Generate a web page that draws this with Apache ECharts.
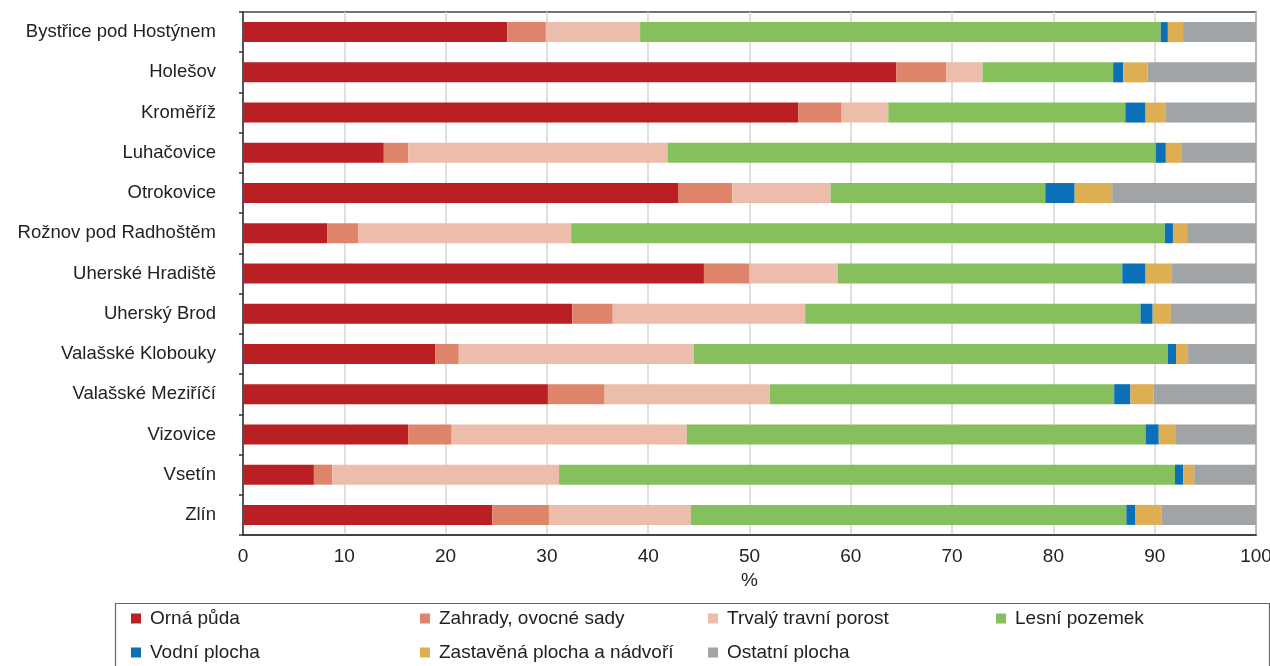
<!DOCTYPE html>
<html>
<head>
<meta charset="utf-8">
<script src="https://cdn.jsdelivr.net/npm/echarts@6/dist/echarts.min.js"></script>
<style>
html,body{margin:0;padding:0;background:#fff;overflow:hidden;}
#chart{width:1270px;height:666px;}
</style>
</head>
<body>
<div id="chart"></div>
<script>
var categories = ["Bystřice pod Hostýnem","Holešov","Kroměříž","Luhačovice","Otrokovice","Rožnov pod Radhoštěm","Uherské Hradiště","Uherský Brod","Valašské Klobouky","Valašské Meziříčí","Vizovice","Vsetín","Zlín"];
var ornaPuda      = [26.1, 64.5, 54.8, 13.9, 43.0,  8.3, 45.5, 32.5, 19.0, 30.1, 16.3,  7.0, 24.6];
var zahrady       = [ 3.8,  4.9,  4.3,  2.4,  5.3,  3.1,  4.5,  4.0,  2.3,  5.6,  4.3,  1.8,  5.6];
var trvalyPorost  = [ 9.3,  3.6,  4.6, 25.6,  9.7, 21.0,  8.7, 19.0, 23.2, 16.3, 23.2, 22.4, 14.0];
var lesniPozemek  = [51.4, 12.9, 23.4, 48.2, 21.2, 58.6, 28.1, 33.1, 46.8, 34.0, 45.3, 60.8, 43.0];
var vodniPlocha   = [ 0.7,  1.0,  2.0,  1.0,  2.9,  0.8,  2.3,  1.2,  0.8,  1.6,  1.3,  0.8,  0.9];
var zastavena     = [ 1.5,  2.4,  2.0,  1.6,  3.7,  1.4,  2.6,  1.8,  1.2,  2.3,  1.7,  1.1,  2.6];
var ostatni       = [ 7.2, 10.7,  8.9,  7.3, 14.2,  6.8,  8.3,  8.4,  6.7, 10.1,  7.9,  6.1,  9.3];
var xTicks = [0,10,20,30,40,50,60,70,80,90,100];

var seriesDefs = [
  {name:"Orná půda", data:ornaPuda, color:"#BA1F24"},
  {name:"Zahrady, ovocné sady", data:zahrady, color:"#DE846A"},
  {name:"Trvalý travní porost", data:trvalyPorost, color:"#EDBDAB"},
  {name:"Lesní pozemek", data:lesniPozemek, color:"#85C05C"},
  {name:"Vodní plocha", data:vodniPlocha, color:"#0C70B8"},
  {name:"Zastavěná plocha a nádvoří", data:zastavena, color:"#DDAE52"},
  {name:"Ostatní plocha", data:ostatni, color:"#A1A4A7"}
];

var FONT = "Liberation Sans, Arial, sans-serif";
var FS = 19;
var chart = echarts.init(document.getElementById('chart'), null, {renderer:'canvas'});

var legendCols = [131, 420, 708, 996];
var legendRows = [609, 643];
var legends = seriesDefs.map(function(s, i){
  var col = i % 4, row = Math.floor(i / 4);
  return {
    orient:'horizontal', left:legendCols[col], top:legendRows[row],
    itemWidth:10, itemHeight:10, icon:'rect', data:[s.name], selectedMode:false,
    padding:0,
    textStyle:{fontFamily:FONT, fontSize:FS, color:'#222', padding:[0,0,0,4]}
  };
});

var option = {
  animation:false,
  backgroundColor:'#fff',
  textStyle:{fontFamily:FONT},
  grid:{left:243, right:14, top:12, bottom:131, show:true, borderColor:'#444', borderWidth:1.5,
        containLabel:false, outerBoundsMode:'none'},
  legend:legends,
  xAxis:{
    type:'value', min:0, max:100, interval:10,
    name:'%', nameLocation:'middle', nameGap:36,
    nameTextStyle:{fontFamily:FONT, fontSize:FS, color:'#222'},
    axisLine:{show:true, lineStyle:{color:'#333', width:1.5}},
    axisTick:{show:false},
    axisLabel:{fontFamily:FONT, fontSize:FS, color:'#222', margin:12,
      formatter:function(v){ return xTicks.indexOf(v) >= 0 ? String(v) : ''; }},
    splitLine:{show:true, lineStyle:{color:'#d4d4d4', width:1.5}}
  },
  yAxis:{
    type:'category', data:categories, inverse:true,
    axisLine:{show:true, lineStyle:{color:'#333', width:1.5}},
    axisTick:{show:true, length:4, lineStyle:{color:'#333', width:1.5}},
    axisLabel:{fontFamily:FONT, fontSize:18.5, color:'#222', margin:27}
  },
  graphic:[{
    type:'rect', left:113, top:601, silent:true,
    shape:{width:1154, height:80},
    style:{fill:'none', stroke:'#666', lineWidth:1.2}, z:-1
  }],
  series: seriesDefs.map(function(s){
    return {
      name:s.name, type:'bar', stack:'total', data:s.data, barWidth:20,
      itemStyle:{color:s.color},
      emphasis:{disabled:true}
    };
  })
};
chart.setOption(option);
</script>
</body>
</html>
